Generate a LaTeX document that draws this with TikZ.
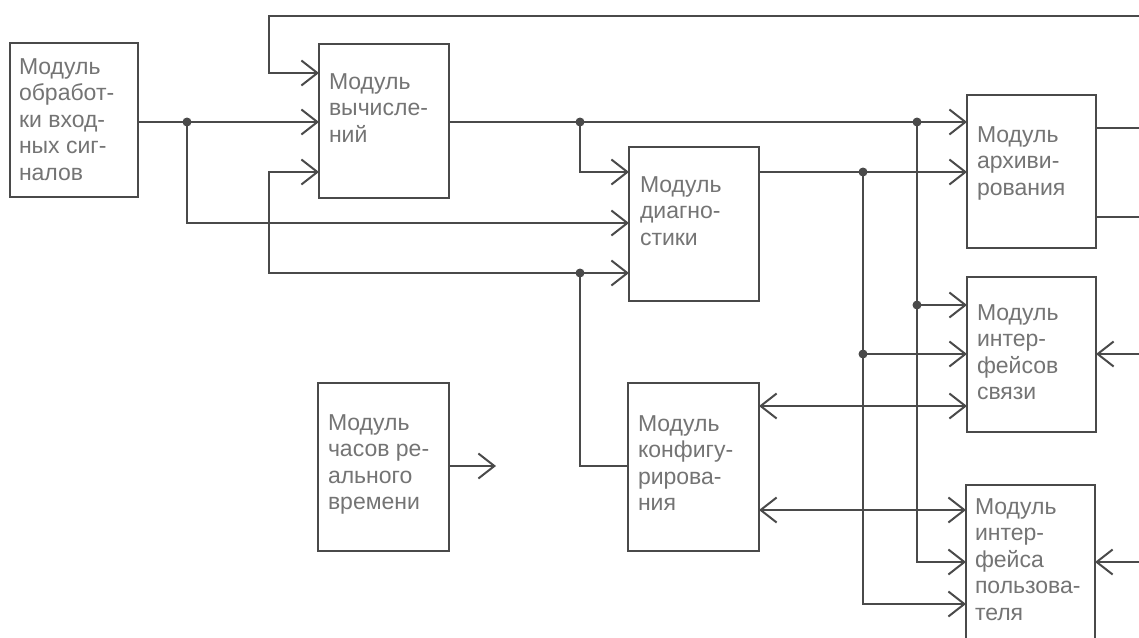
\documentclass[tikz,border=0pt]{standalone}
\usepackage{fontspec}
\setmainfont{Liberation Sans}
\usetikzlibrary{arrows.meta,calc}
\definecolor{ln}{HTML}{4A4A4A}
\definecolor{tx}{HTML}{747474}
\newcommand{\fstrut}{\rule{0pt}{17pt}}
\begin{document}
\begin{tikzpicture}[x=1pt,y=-1pt,
  box/.style={draw=ln, line width=2pt, rectangle, inner sep=0pt, outer sep=0pt, anchor=north west},
  lbl/.style={anchor=north west, inner sep=0pt, outer sep=0pt, align=left, text=tx, font=\fontsize{23}{26.5}\selectfont},
  wire/.style={draw=ln, line width=2pt},
  arr/.style={wire, -{Straight Barb[length=16pt,width=25pt]}},
  barr/.style={wire, {Straight Barb[length=16pt,width=25pt]}-{Straight Barb[length=16pt,width=25pt]}}]
\fill[white] (0,0) rectangle (1139,637);
\useasboundingbox (0,0) rectangle (1139,637);
\clip (0,0) rectangle (1139,637);

% boxes
\node[box, minimum width=128pt, minimum height=154pt] (b1) at (10,43) {};
\node[box, minimum width=130pt, minimum height=154pt] (b2) at (319,44) {};
\node[box, minimum width=130pt, minimum height=154pt] (diag) at (629,147) {};
\node[box, minimum width=129pt, minimum height=153pt] (arch) at (967,95) {};
\node[box, minimum width=129pt, minimum height=155pt] (svyaz) at (967,277) {};
\node[box, minimum width=131pt, minimum height=168pt] (rt) at (318,383) {};
\node[box, minimum width=131pt, minimum height=168pt] (cfg) at (628,383) {};
\node[box, minimum width=129pt, minimum height=170pt] (user) at (966,485) {};

% labels
\node[lbl] (t1) at ($(b1.north west)+(9,14)$) {\fstrut Модуль\\обработ-\\ки вход-\\ных сиг-\\налов};
\node[lbl] (t2) at ($(b2.north west)+(10,28)$) {\fstrut Модуль\\вычисле-\\ний};
\node[lbl] (t3) at ($(diag.north west)+(11,28)$) {\fstrut Модуль\\диагно-\\стики};
\node[lbl] (t4) at ($(arch.north west)+(10,30)$) {\fstrut Модуль\\архиви-\\рования};
\node[lbl] (t5) at ($(svyaz.north west)+(10,26)$) {\fstrut Модуль\\интер-\\фейсов\\связи};
\node[lbl] (t6) at ($(rt.north west)+(10,30)$) {\fstrut Модуль\\часов ре-\\ального\\времени};
\node[lbl] (t7) at ($(cfg.north west)+(10,31)$) {\fstrut Модуль\\конфигу-\\рирова-\\ния};
\node[lbl] (t8) at ($(user.north west)+(9,12)$) {\fstrut Модуль\\интер-\\фейса\\пользова-\\теля};

% rows and columns
\coordinate (r16) at (0,16);
\coordinate (r73) at (0,73);
\coordinate (r122) at (0,122);
\coordinate (r128) at (0,128);
\coordinate (r172) at (0,172);
\coordinate (r217) at (0,217);
\coordinate (r223) at (0,223);
\coordinate (r273) at (0,273);
\coordinate (r305) at (0,305);
\coordinate (r354) at (0,354);
\coordinate (r406) at (0,406);
\coordinate (r466) at (0,466);
\coordinate (r510) at (0,510);
\coordinate (r562) at (0,562);
\coordinate (r604) at (0,604);
\coordinate (c187) at (187,0);
\coordinate (c269) at (269,0);
\coordinate (c580) at (580,0);
\coordinate (c863) at (863,0);
\coordinate (c917) at (917,0);
\coordinate (c496) at (496,0);
\coordinate (cR) at (1145,0);

% junctions
\coordinate (j187) at (187,122);
\coordinate (j580a) at (580,122);
\coordinate (j917a) at (917,122);
\coordinate (j580b) at (580,273);
\coordinate (j863a) at (863,172);
\coordinate (j917b) at (917,305);
\coordinate (j863b) at (863,354);

% wires
\draw[arr] (cR|-r16) -- (c269|-r16) -- (c269|-r73) -- (b2.west|-r73);
\draw[arr] (b1.east|-r122) -- (b2.west|-r122);
\draw[arr] (j187) -- (c187|-r223) -- (diag.west|-r223);
\draw[wire] (cfg.west|-r466) -- (c580|-r466) -- (j580b);
\draw[arr] (j580b) -- (diag.west|-r273);
\draw[arr] (j580b) -- (c269|-r273) -- (c269|-r172) -- (b2.west|-r172);
\draw[arr] (b2.east|-r122) -- (arch.west|-r122);
\draw[arr] (j580a) -- (c580|-r172) -- (diag.west|-r172);
\draw[arr] (diag.east|-r172) -- (arch.west|-r172);
\draw[arr] (j917a) -- (c917|-r562) -- (user.west|-r562);
\draw[arr] (j917b) -- (svyaz.west|-r305);
\draw[arr] (j863a) -- (c863|-r604) -- (user.west|-r604);
\draw[arr] (j863b) -- (svyaz.west|-r354);
\draw[barr] (cfg.east|-r406) -- (svyaz.west|-r406);
\draw[barr] (cfg.east|-r510) -- (user.west|-r510);
\draw[arr] (rt.east|-r466) -- (c496|-r466);
\draw[wire] (arch.east|-r128) -- (cR|-r128);
\draw[wire] (arch.east|-r217) -- (cR|-r217);
\draw[arr] (cR|-r354) -- (svyaz.east|-r354);
\draw[arr] (cR|-r562) -- (user.east|-r562);

% dots
\foreach \j in {j187,j580a,j917a,j580b,j863a,j917b,j863b}
  \fill[ln] (\j) circle (4.5pt);
\end{tikzpicture}
\end{document}
